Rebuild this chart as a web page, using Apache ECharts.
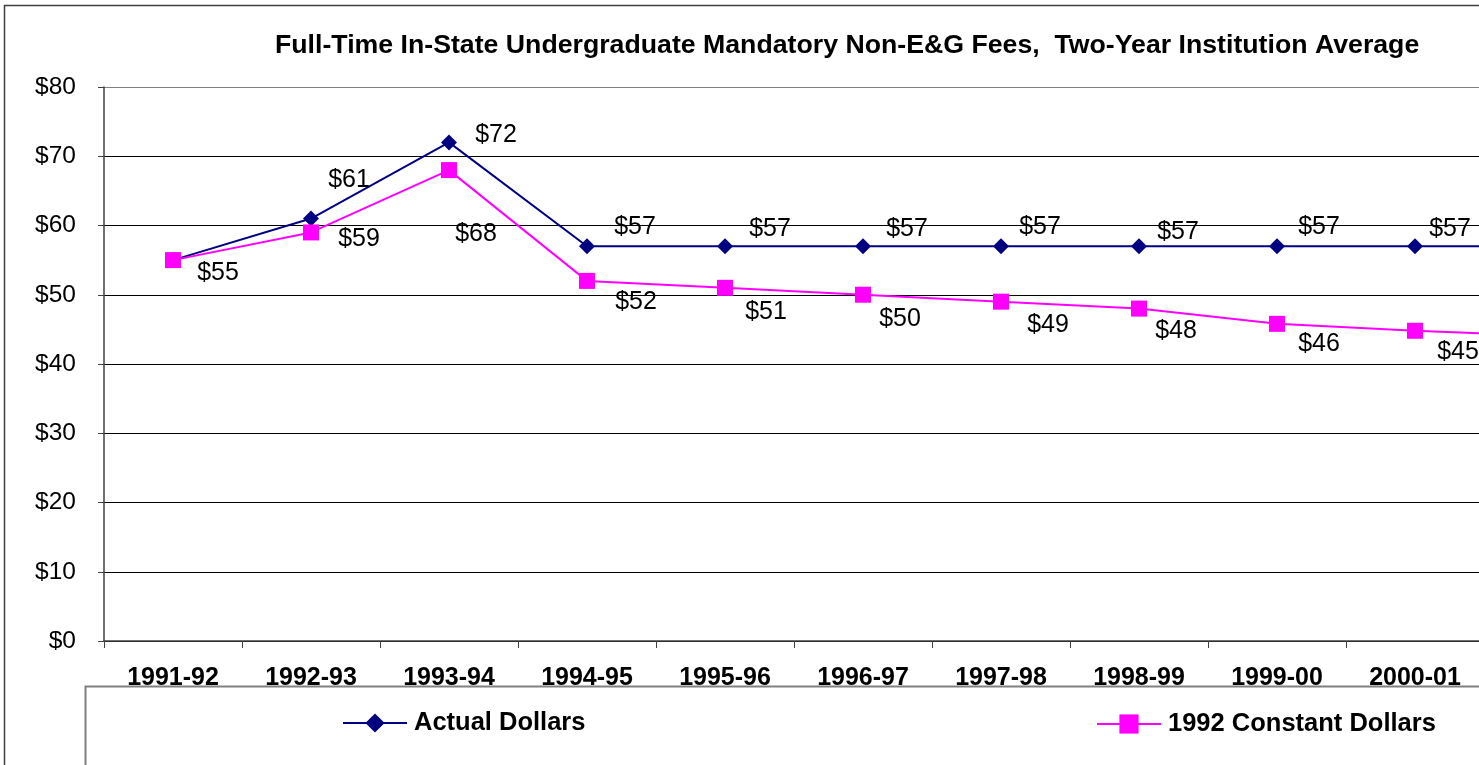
<!DOCTYPE html>
<html>
<head>
<meta charset="utf-8">
<script src="https://cdn.jsdelivr.net/npm/echarts@6/dist/echarts.min.js"></script>
<style>
    html, body { margin: 0; padding: 0; background: #fff; }
    #chart { width: 1479px; height: 765px; }
</style>
</head>
<body>
<div id="chart"></div>
<script>
// Data (last year is cut off at the right edge)
const years = ['1991-92', '1992-93', '1993-94', '1994-95', '1995-96', '1996-97', '1997-98', '1998-99', '1999-00', '2000-01', '2001-02']
const actualDollars = [55, 61, 72, 57, 57, 57, 57, 57, 57, 57, 57]
const constantDollars = [55, 59, 68, 52, 51, 50, 49, 48, 45.8, 44.8, 44.0]
const yTicks = [0, 10, 20, 30, 40, 50, 60, 70, 80]

const FONT = "'Liberation Sans', Arial, sans-serif"

// where Excel put each data label, relative to its point
const actualLabelOffsets = [[45, 13], [38, -38], [47, -7], [48, -19], [45, -17], [44, -17], [39, -19], [39, -14], [42, -19], [35, -17], [40, -17]]
const constantLabelOffsets = [[45, 13], [48, 7], [27, 64], [49, 21], [41, 24], [37, 24], [47, 23], [37, 23], [42, 20], [43, 21], [42, 21]]

function buildSeries(name, values, offsets, color, symbol, size, skipFirstLabel) {
    return {
        name: name,
        type: 'line',
        symbol: symbol,
        symbolSize: size,
        lineStyle: { color: color, width: 2 },
        itemStyle: { color: color },
        emphasis: { disabled: true },
        animation: false,
        data: values.map((v, i) => ({
            value: v,
            label: { offset: offsets[i] }
        })),
        label: {
            show: true,
            position: 'inside',
            color: '#000',
            fontFamily: FONT,
            fontSize: 25,
            formatter: p => (skipFirstLabel && p.dataIndex === 0 ? '' : '$' + Math.round(p.value))
        }
    }
}

const chart = echarts.init(document.getElementById('chart'))

const gridColors = yTicks.map((t, i) => (i === yTicks.length - 1 ? '#808080' : '#000'))

chart.setOption({
    animation: false,
    backgroundColor: '#fff',
    title: {
        text: 'Full-Time In-State Undergraduate Mandatory Non-E&G Fees,  Two-Year Institution Average',
        left: 270,
        top: 27,
        textStyle: { fontFamily: FONT, fontSize: 26.7, fontWeight: 'bold', color: '#000' }
    },
    graphic: [
        {
            type: 'rect',
            z: -10,
            shape: { x: 4.5, y: 5.5, width: 1600, height: 900 },
            style: { fill: '#fff', stroke: '#404040', lineWidth: 1.5 }
        },
        {
            type: 'rect',
            z: -5,
            shape: { x: 85.5, y: 686.5, width: 1500, height: 200 },
            style: { fill: '#fff', stroke: '#808080', lineWidth: 2 }
        }
    ],
    legend: [
        {
            data: ['Actual Dollars'],
            left: 342,
            top: 710,
            padding: 0,
            itemWidth: 64,
            itemHeight: 24,
            textStyle: { fontFamily: FONT, fontSize: 25.5, fontWeight: 'bold', color: '#000', padding: [0, 0, 0, 2] }
        },
        {
            data: ['1992 Constant Dollars'],
            left: 1096,
            top: 711,
            padding: 0,
            itemWidth: 64,
            itemHeight: 24,
            textStyle: { fontFamily: FONT, fontSize: 25.5, fontWeight: 'bold', color: '#000', padding: [0, 0, 0, 2] }
        }
    ],
    grid: {
        left: 104,
        top: 87,
        width: 1518,
        height: 554,
        containLabel: false,
        outerBoundsMode: 'none'
    },
    xAxis: {
        type: 'category',
        data: years,
        boundaryGap: true,
        axisLine: { lineStyle: { color: '#404040', width: 1.5 } },
        axisTick: { show: true, length: 7, lineStyle: { color: '#404040' } },
        axisLabel: {
            interval: 0,
            margin: 25,
            fontFamily: FONT,
            fontSize: 25,
            fontWeight: 'bold',
            color: '#000'
        }
    },
    yAxis: {
        type: 'value',
        min: yTicks[0],
        max: yTicks[yTicks.length - 1],
        interval: 10,
        axisLine: { show: true, lineStyle: { color: '#404040', width: 1.5 } },
        axisTick: { show: true, length: 6, lineStyle: { color: '#404040' } },
        axisLabel: {
            margin: 28,
            fontFamily: FONT,
            fontSize: 24.5,
            color: '#000',
            formatter: v => '$' + v
        },
        splitLine: { show: true, lineStyle: { color: gridColors, width: 1 } }
    },
    series: [
        buildSeries('Actual Dollars', actualDollars, actualLabelOffsets, '#000080', 'diamond', 16, true),
        buildSeries('1992 Constant Dollars', constantDollars, constantLabelOffsets, '#FF00FF', 'rect', 16, false)
    ]
})
</script>
</body>
</html>
